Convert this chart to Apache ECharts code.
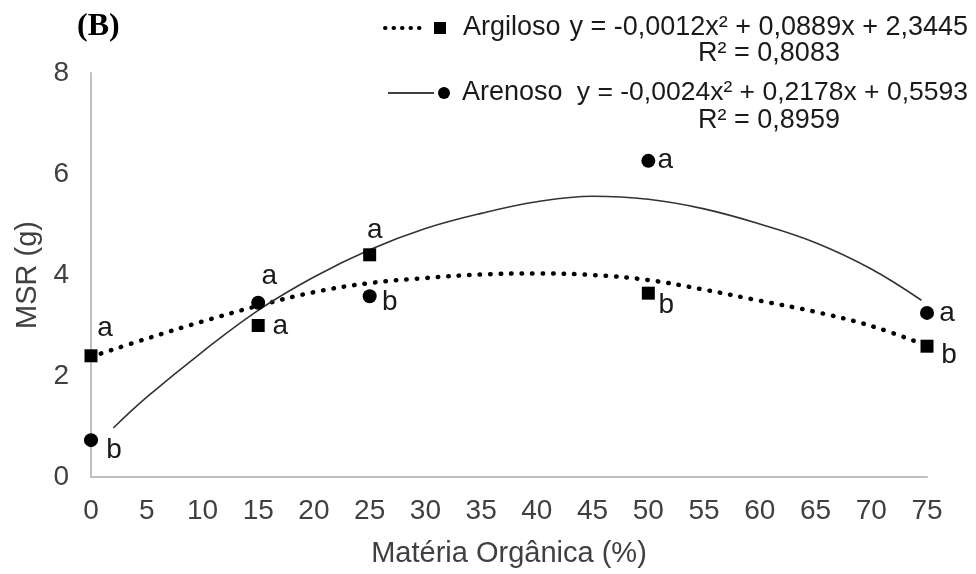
<!DOCTYPE html>
<html>
<head>
<meta charset="utf-8">
<script src="https://cdn.jsdelivr.net/npm/echarts@6/dist/echarts.min.js"></script>
<style>
html,body{margin:0;padding:0;background:#fff;}
#chart{width:976px;height:574px;}
</style>
</head>
<body>
<div id="chart"></div>
<script>
// ---- data ----
const xTicks = [0,5,10,15,20,25,30,35,40,45,50,55,60,65,70,75];
const yTicks = [0,2,4,6,8];
const doses = [0, 15, 25, 50, 75];
const seriesNames = ['Argiloso', 'Arenoso'];
const argiloso = [2.40, 3.00, 4.40, 3.64, 2.59];
const arenoso  = [0.73, 3.45, 3.58, 6.26, 3.25];
const argilosoLetters = ['a', 'a', 'a', 'b', 'b'];
const arenosoLetters  = ['b', 'a', 'b', 'a', 'a'];
// trend curves
const argTrendX = [0,5,10,15,20,25,30,35,40,45,50,55,60,65,70,75];
const argTrendY = [2.38,2.74,3.08,3.39,3.66,3.84,3.94,4.01,4.03,4.00,3.90,3.71,3.49,3.27,2.99,2.60];
const areTrendX = [2,5,10,15,20,25,30,35,40,45,50,55,60,65,70,74.5];
const areTrendY = [0.97,1.58,2.48,3.30,3.96,4.50,4.92,5.22,5.45,5.56,5.50,5.31,5.01,4.64,4.12,3.50];
const argEquation = 'y = -0,0012x² + 0,0889x + 2,3445';
const argR2 = 'R² = 0,8083';
const areEquation = 'y = -0,0024x² + 0,2178x + 0,5593';
const areR2 = 'R² = 0,8959';
const panelTag = '(B)';
const xTitle = 'Matéria Orgânica (%)';
const yTitle = 'MSR (g)';

// ---- styles ----
const FONT = "'Liberation Sans', Arial, sans-serif";
const TXT = '#404040';
const argLabelOffsets = [[14,-28],[22,1],[5,-25],[18,12],[22,9]];
const areLabelOffsets = [[23,10],[11,-26],[20,6],[17,-1],[20,0]];

function pts(xs, ys){ return xs.map((x,i)=>[x, ys[i]]); }
function lettered(xs, ys, letters, offs){
  return xs.map((x,i)=>({
    value:[x, ys[i]],
    label:{show:true, formatter:letters[i], offset:offs[i]}
  }));
}
const letterLabel = {
  position:'inside', align:'center', verticalAlign:'middle',
  fontFamily:FONT, fontSize:28, color:'#1a1a1a'
};

const chart = echarts.init(document.getElementById('chart'), null, {renderer:'canvas'});
chart.setOption({
  animation:false,
  backgroundColor:'#fff',
  grid:{left:91, right:49, top:73, bottom:97, containLabel:false, outerBoundsMode:'none'},
  xAxis:{
    type:'value', min:xTicks[0], max:xTicks[xTicks.length-1], interval:xTicks[1]-xTicks[0],
    name:xTitle, nameLocation:'middle', nameGap:62,
    nameTextStyle:{fontFamily:FONT, fontSize:29, color:TXT},
    axisLine:{show:true, lineStyle:{color:'#bfbfbf', width:2}},
    axisTick:{show:false}, splitLine:{show:false},
    axisLabel:{fontFamily:FONT, fontSize:28, color:TXT, margin:20}
  },
  yAxis:{
    type:'value', min:yTicks[0], max:yTicks[yTicks.length-1], interval:yTicks[1]-yTicks[0],
    name:yTitle, nameLocation:'middle', nameGap:47, nameRotate:90,
    nameTextStyle:{fontFamily:FONT, fontSize:29, color:TXT},
    axisLine:{show:true, lineStyle:{color:'#bfbfbf', width:2}},
    axisTick:{show:false}, splitLine:{show:false},
    axisLabel:{fontFamily:FONT, fontSize:28, color:TXT, margin:22}
  },
  series:[
    {
      name:seriesNames[0]+' trend', type:'line', data:pts(argTrendX, argTrendY),
      smooth:0.4, showSymbol:false, symbol:'none', z:2, silent:true,
      lineStyle:{color:'#000', width:4.5, type:[0.5, 10], cap:'round', opacity:1}
    },
    {
      name:seriesNames[1]+' trend', type:'line', data:pts(areTrendX, areTrendY),
      smooth:0.4, showSymbol:false, symbol:'none', z:2, silent:true,
      lineStyle:{color:'#333', width:1.6, opacity:1}
    },
    {
      name:seriesNames[0], type:'scatter', symbol:'rect', symbolSize:13, z:5,
      itemStyle:{color:'#000', opacity:1},
      label:letterLabel,
      data:lettered(doses, argiloso, argilosoLetters, argLabelOffsets)
    },
    {
      name:seriesNames[1], type:'scatter', symbol:'circle', symbolSize:14, z:5,
      itemStyle:{color:'#000', opacity:1},
      label:letterLabel,
      data:lettered(doses, arenoso, arenosoLetters, areLabelOffsets)
    }
  ],
  graphic:[
    {type:'text', left:77, top:11, style:{text:panelTag, font:"bold 32px 'Liberation Serif', 'Times New Roman', serif", fill:'#000'}},
    // legend row 1
    {type:'line', shape:{x1:385, y1:28, x2:426, y2:28}, style:{stroke:'#000', lineWidth:4, lineDash:[0.5,8], lineCap:'round'}},
    {type:'rect', shape:{x:434, y:22, width:12, height:12}, style:{fill:'#000'}},
    {type:'text', x:463, y:28, style:{text:seriesNames[0], font:"27px "+FONT, fill:'#1a1a1a', textVerticalAlign:'middle', textAlign:'left'}},
    {type:'text', x:968, y:28, style:{text:argEquation, font:"27px "+FONT, fill:'#1a1a1a', textVerticalAlign:'middle', textAlign:'right'}},
    {type:'text', x:769, y:54, style:{text:argR2, font:"27px "+FONT, fill:'#1a1a1a', textVerticalAlign:'middle', textAlign:'center'}},
    // legend row 2
    {type:'line', shape:{x1:388, y1:93, x2:434, y2:93}, style:{stroke:'#000', lineWidth:1.5}},
    {type:'circle', shape:{cx:444, cy:93, r:6}, style:{fill:'#000'}},
    {type:'text', x:462, y:93, style:{text:seriesNames[1], font:"27px "+FONT, fill:'#1a1a1a', textVerticalAlign:'middle', textAlign:'left'}},
    {type:'text', x:968, y:93, style:{text:areEquation, font:"26.5px "+FONT, fill:'#1a1a1a', textVerticalAlign:'middle', textAlign:'right'}},
    {type:'text', x:769, y:121, style:{text:areR2, font:"27px "+FONT, fill:'#1a1a1a', textVerticalAlign:'middle', textAlign:'center'}}
  ]
});
</script>
</body>
</html>
